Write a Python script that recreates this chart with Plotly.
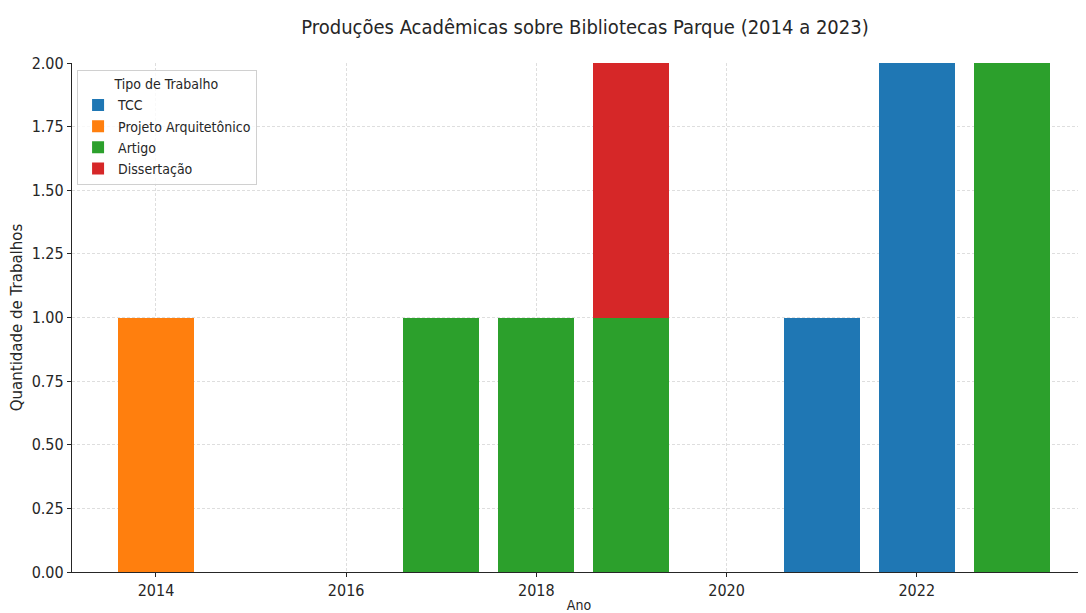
import plotly.graph_objects as go

years = [2014, 2017, 2018, 2019, 2021, 2022, 2023]
tipos = ["TCC", "Projeto Arquitetônico", "Artigo", "Dissertação"]
tcc = [0, 0, 0, 0, 1, 2, 0]
projeto = [1, 0, 0, 0, 0, 0, 0]
artigo = [0, 1, 1, 1, 0, 0, 2]
dissertacao = [0, 0, 0, 1, 0, 0, 0]
cores = ["#1f77b4", "#ff7f0e", "#2ca02c", "#d62728"]

series = [tcc, projeto, artigo, dissertacao]
fig = go.Figure()
for nome, vals, cor in zip(tipos, series, cores):
    fig.add_trace(go.Bar(x=years, y=vals, name=nome, marker=dict(color=cor, line=dict(width=0)),
                         width=0.8))

font = "DejaVu Sans"
cond = "DejaVu Sans Condensed, " + font
W, H = 1086, 613
fig.update_layout(
    width=W, height=H,
    barmode="stack",
    plot_bgcolor="white", paper_bgcolor="white",
    margin=dict(l=64, r=8, t=55, b=49),
    font=dict(family=font, color="#262626"),
    title=dict(text="Produções Acadêmicas sobre Bibliotecas Parque (2014 a 2023)",
               x=577/W, xref="container", xanchor="center", y=1-19/H, yanchor="middle",
               font=dict(family=cond, size=20, color="#262626")),
    legend=dict(x=0.005, y=0.986, xanchor="left", yanchor="top", traceorder="normal",
                bordercolor="#d0d0d0", borderwidth=1, bgcolor="rgba(255,255,255,0.8)",
                font=dict(family=cond, size=14),
                title=dict(text="Tipo de Trabalho", side="top center",
                           font=dict(family=cond, size=14)),
                itemwidth=30, tracegroupgap=0),
    xaxis=dict(range=[2013.117, 2023.78], tickmode="array", tickvals=[2014, 2016, 2018, 2020, 2022],
               ticks="outside", ticklen=4, tickcolor="#262626", automargin=False,
               showline=True, linecolor="#262626", linewidth=1.2,
               showgrid=True, gridcolor="#dedede", griddash="3px,2px", gridwidth=1,
               tickfont=dict(family=cond, size=16), zeroline=False,
               title=dict(text="Ano", font=dict(family=cond, size=14), standoff=0)),
    yaxis=dict(range=[0, 2], tickmode="array", tickvals=[0, 0.25, 0.5, 0.75, 1, 1.25, 1.5, 1.75, 2],
               tickformat=".2f", ticks="outside", ticklen=4, tickcolor="#262626", automargin=False,
               showline=True, linecolor="#262626", linewidth=1.2,
               showgrid=True, gridcolor="#dedede", griddash="3px,2px", gridwidth=1,
               tickfont=dict(family=cond, size=16), zeroline=False,
               title=dict(text="Quantidade de Trabalhos", font=dict(size=15), standoff=6)),
)
fig.write_html("out.html")
